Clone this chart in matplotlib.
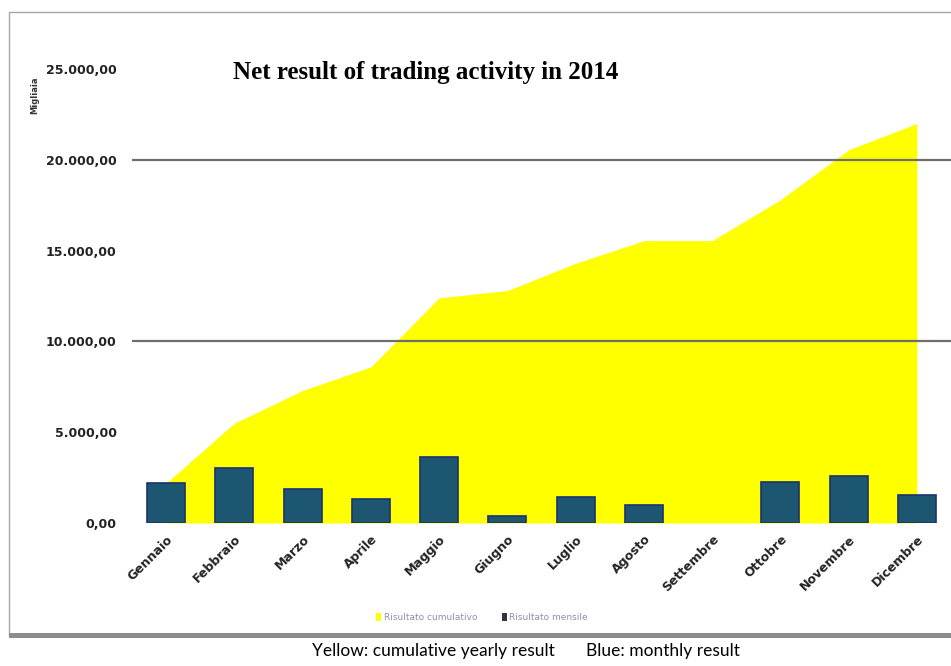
import numpy as np
import matplotlib.pyplot as plt
import matplotlib.patches as patches
from matplotlib.ticker import FuncFormatter

months = ['Gennaio', 'Febbraio', 'Marzo', 'Aprile', 'Maggio', 'Giugno',
          'Luglio', 'Agosto', 'Settembre', 'Ottobre', 'Novembre', 'Dicembre']
monthly = [2180, 3010, 1870, 1320, 3650, 390, 1430, 1000, 0, 2250, 2600, 1540]
cumulative = [2200, 5500, 7300, 8600, 12400, 12800, 14300, 15550, 15550, 17800, 20550, 22000]
y_ticks = [0, 5000, 10000, 15000, 20000, 25000]
grid_levels = [10000, 20000]


def it_format(v, pos=None):
    # Italian number format: 25.000,00
    s = '{:,.2f}'.format(v)
    return s.replace(',', 'X').replace('.', ',').replace('X', '.')


fig = plt.figure(figsize=(9.51, 6.66), dpi=100)
fig.patch.set_facecolor('white')

# Outer chart frame
fig.add_artist(patches.Rectangle((9 / 951, 1 - 636 / 666), 1.0, (636 - 12) / 666,
                                 transform=fig.transFigure, fill=False,
                                 edgecolor='#a8a8a8', lw=1.0))
fig.add_artist(patches.Rectangle((9 / 951, 1 - 638 / 666), 1.0, 5 / 666,
                                 transform=fig.transFigure, facecolor='#8c8c8c',
                                 edgecolor='none'))

ax = fig.add_axes([132 / 951, 1 - 523 / 666, 1 - 132 / 951, (523 - 69) / 666])
x = np.arange(len(months))

ax.fill_between(x, 0, cumulative, color='#ffff00', lw=0, zorder=1)
ax.bar(x, monthly, width=0.56, color='#1d5670', edgecolor='#1b3272',
       lw=[1.2 if v > 0 else 0 for v in monthly], zorder=3)
for g in grid_levels:
    ax.axhline(g, color='#6e6e6e', lw=1.6, zorder=2)

ax.set_xlim(-0.5, 11.5)
ax.set_ylim(0, 25000)
ax.set_yticks(y_ticks)
ax.yaxis.set_major_formatter(FuncFormatter(it_format))
ax.set_xticks(x)
ax.set_xticklabels(months, rotation=45, ha='right', rotation_mode='anchor')
ax.tick_params(axis='both', length=0, labelsize=9, labelcolor='#222222')
ax.tick_params(axis='y', pad=11)
ax.tick_params(axis='x', pad=7)
for lbl in ax.get_xticklabels() + ax.get_yticklabels():
    lbl.set_fontweight('bold')
for s in ax.spines.values():
    s.set_visible(False)
ax.set_facecolor('none')

fig.text(35 / 951, 1 - 95 / 666, 'Migliaia', rotation=90, fontsize=6,
         fontweight='bold', ha='center', va='center', color='#333333')

fig.text(426 / 951, 1 - 73 / 666, 'Net result of trading activity in 2014',
         fontsize=18, fontweight='bold', family='Liberation Serif',
         ha='center', va='center', color='black')

# Legend inside the frame
fig.add_artist(patches.Rectangle((376 / 951, 1 - 621 / 666), 5 / 951, 8 / 666,
                                 transform=fig.transFigure, facecolor='#ffff00', edgecolor='none'))
fig.text(384 / 951, 1 - 617 / 666, 'Risultato cumulativo', fontsize=6.5,
         color='#8a8fb0', ha='left', va='center')
fig.add_artist(patches.Rectangle((502 / 951, 1 - 621 / 666), 5 / 951, 8 / 666,
                                 transform=fig.transFigure, facecolor='#333344', edgecolor='none'))
fig.text(509 / 951, 1 - 617 / 666, 'Risultato mensile', fontsize=6.5,
         color='#8a8fb0', ha='left', va='center')

# Caption below the chart
fig.text(312 / 951, 1 - 651 / 666, 'Yellow: cumulative yearly result', fontsize=12.5,
         family='Lato', ha='left', va='center', color='black')
fig.text(586 / 951, 1 - 651 / 666, 'Blue: monthly result', fontsize=12.5,
         family='Lato', ha='left', va='center', color='black')

fig.savefig('out.png', dpi=100)
